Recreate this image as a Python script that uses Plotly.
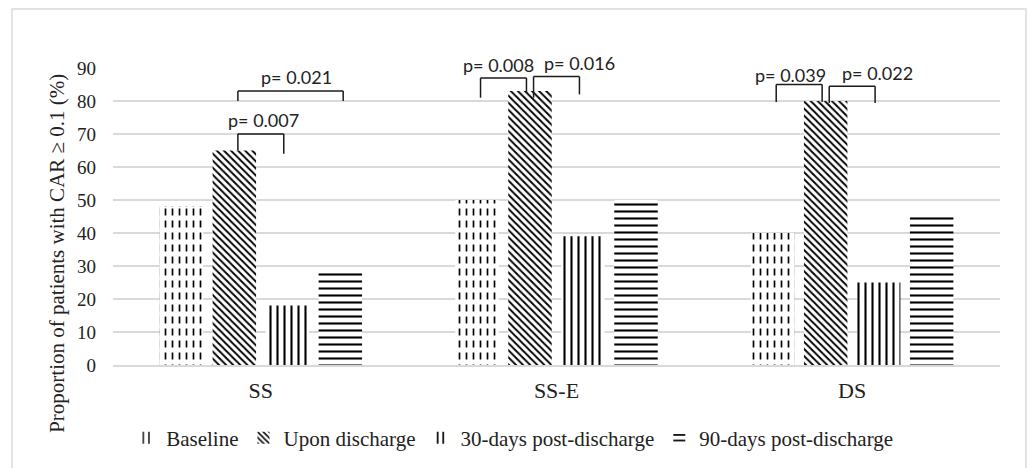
import plotly.graph_objects as go

# ---------------- data ----------------
categories = ["SS", "SS-E", "DS"]
series_names = ["Baseline", "Upon discharge", "30-days post-discharge", "90-days post-discharge"]
baseline = [48, 50, 40]
upon_discharge = [65, 83, 80]
days30_post = [18, 39, 25]
days90_post = [29, 50, 45]
y_tick_values = [0, 10, 20, 30, 40, 50, 60, 70, 80, 90]

# significance brackets:
# (category, from series, to series, bracket top, left leg end, right leg end, label, label y, label x shift px)
brackets = [
    ("SS", 1, 2, 70, 65, 64, "p= 0.007", 74.2, 3),
    ("SS", 1, 3, 83, 80, 80, "p= 0.021", 87.3, 6),
    ("SS-E", 0, 1, 87, 81, 82.4, "p= 0.008", 90.9, -5),
    ("SS-E", 1, 2, 87.4, 81, 82, "p= 0.016", 91.5, 23),
    ("DS", 0, 1, 85, 79.7, 79.7, "p= 0.039", 87.9, -9),
    ("DS", 1, 2, 84.5, 79.4, 79.4, "p= 0.022", 88.5, 25),
]

# ---------------- style ----------------
SERIF = "Liberation Serif"
SANS = "Lato"
GRID = "#d9d9d9"
Y_MAX = 90
bar_width = 0.147
centers = [-0.2689, -0.0896, 0.0896, 0.2689]
patterns = [
    dict(shape="|", size=7, solidity=0.24),
    dict(shape="\\", size=5, solidity=0.38),
    dict(shape="|", size=7, solidity=0.3),
    dict(shape="-", size=7, solidity=0.3),
]
values = [baseline, upon_discharge, days30_post, days90_post]

fig = go.Figure()
for i, (name, vals) in enumerate(zip(series_names, values)):
    fig.add_trace(go.Bar(
        x=categories, y=vals, name=name,
        width=bar_width, offset=centers[i] - bar_width / 2,
        marker=dict(color="white", line=dict(width=0),
                    pattern=dict(fgcolor="black", bgcolor="white",
                                 fillmode="replace", **patterns[i])),
    ))
    if i == 0:
        # white horizontal breaks turn the vertical lines into dashes
        fig.add_trace(go.Bar(
            x=categories, y=vals, showlegend=False, hoverinfo="skip",
            width=bar_width, offset=centers[i] - bar_width / 2,
            marker=dict(color="rgba(0,0,0,0)", line=dict(width=0),
                        pattern=dict(shape="-", size=12, solidity=0.42,
                                     fgcolor="white", bgcolor="rgba(0,0,0,0)",
                                     fillmode="replace")),
        ))

# brackets
inset = 0.012
for cat, s0, s1, top, l_end, r_end, label, ly, xs in brackets:
    ci = categories.index(cat)
    x0 = ci + centers[s0] + inset
    x1 = ci + centers[s1] - inset
    if (s1 - s0) > 1:
        x1 = ci + centers[s1] + inset * 0.8
    for xa, ya, xb, yb in [(x0, l_end, x0, top), (x0, top, x1, top), (x1, top, x1, r_end)]:
        fig.add_shape(type="line", xref="x", yref="y", x0=xa, y0=ya, x1=xb, y1=yb,
                      line=dict(color="#1a1a1a", width=1.5))
    fig.add_annotation(x=(x0 + x1) / 2, y=ly / Y_MAX, xref="x", yref="paper", text=label,
                       showarrow=False, xshift=xs, xanchor="center", yanchor="middle",
                       font=dict(family=SANS, size=18, color="#222"))

# y-axis title (placed as annotation to match vertical offset)
fig.add_annotation(xref="paper", yref="paper", x=-0.064, y=0.375, xanchor="center", yanchor="middle",
                   text="Proportion of patients with CAR ≥ 0.1 (%)", textangle=-90,
                   showarrow=False, font=dict(family=SERIF, size=21, color="#222"))

# outer border
fig.add_shape(type="rect", xref="paper", yref="paper",
              x0=-0.1139, x1=1.0293, y0=-0.352, y1=1.1987,
              line=dict(color=GRID, width=1.5), layer="below")

fig.update_layout(
    width=1030, height=468,
    margin=dict(l=113, r=30, t=68, b=103, autoexpand=False),
    paper_bgcolor="white", plot_bgcolor="white",
    barmode="overlay",
    font=dict(family=SERIF, size=20, color="#222"),
    showlegend=True,
    legend=dict(orientation="h", x=0.45, xanchor="center", y=-0.246, yanchor="middle",
                font=dict(family=SERIF, size=21, color="#222"),
                bgcolor="rgba(0,0,0,0)", itemwidth=30),
    xaxis=dict(range=[-0.5, 2.5], showgrid=False, showline=True, linecolor=GRID, linewidth=1.5,
               ticks="", tickfont=dict(family=SERIF, size=22, color="#222"),
               ticklabelstandoff=5, automargin=False),
    yaxis=dict(range=[0, Y_MAX], tickvals=y_tick_values, showgrid=True, gridcolor=GRID, gridwidth=1.5,
               zeroline=False, showline=False, ticks="",
               tickfont=dict(family=SERIF, size=19, color="#222"),
               ticklabelstandoff=16, automargin=False),
)

fig.write_html("out.html", config={"displayModeBar": False},
               post_script="document.body.style.margin='0';document.body.style.overflow='hidden';")
